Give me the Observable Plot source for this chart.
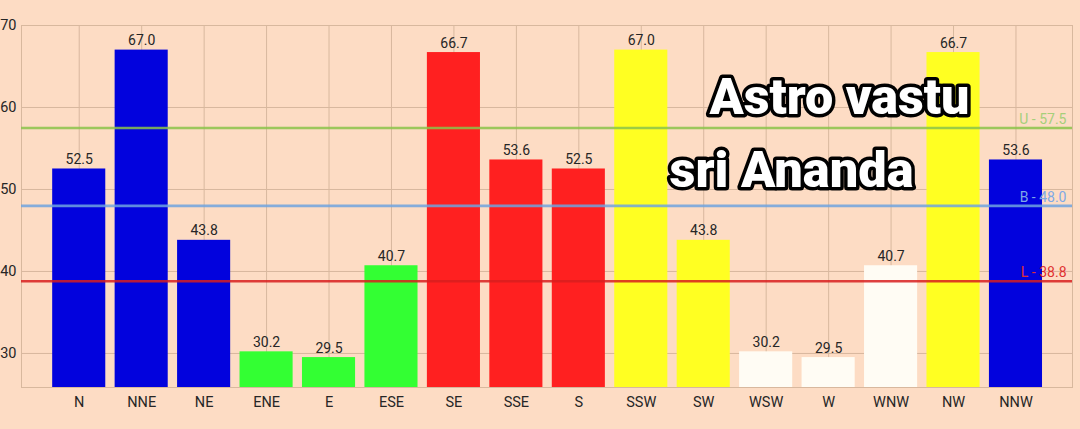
<!DOCTYPE html>
<html>
<head>
<meta charset="utf-8">
<script src="https://cdn.jsdelivr.net/npm/d3@7"></script>
<script src="https://cdn.jsdelivr.net/npm/@observablehq/plot@0.6"></script>
<style>
  html, body { margin: 0; padding: 0; background: #fddcc4; }
  #chart { width: 1080px; height: 429px; overflow: hidden; }
</style>
</head>
<body>
<div id="chart"></div>
<script>
const directions = ["N","NNE","NE","ENE","E","ESE","SE","SSE","S","SSW","SW","WSW","W","WNW","NW","NNW"];
const scores = [52.5, 67.0, 43.8, 30.2, 29.5, 40.7, 66.7, 53.6, 52.5, 67.0, 43.8, 30.2, 29.5, 40.7, 66.7, 53.6];
const barColors = ["#0202dd","#0202dd","#0202dd","#33ff33","#33ff33","#33ff33","#ff2020","#ff2020","#ff2020","#ffff22","#ffff22","#fffcf4","#fffcf4","#fffcf4","#ffff22","#0202dd"];
const limitNames = ["U","B","L"];
const limitValues = [57.5, 48.0, 38.8];
const limitColors = ["#8bc34a","#6fa3df","#d81e1e"];
const limitLabelColors = ["#a6cf7a","#7fa9e6","#e03030"];
const yTicks = [30, 40, 50, 60, 70];
const overlayLines = ["Astro vastu", "sri Ananda"];

const bars = directions.map((d, i) => ({dir: d, value: scores[i], color: barColors[i]}));
const limits = limitNames.map((n, i) => ({name: n, value: limitValues[i], color: limitColors[i], labelColor: limitLabelColors[i]}));

const grid = "#d8b89e";

const plot = Plot.plot({
  width: 1080,
  height: 429,
  marginLeft: 21,
  marginRight: 8,
  marginTop: 25,
  marginBottom: 42,
  style: {background: "#fddcc4", fontFamily: "Roboto, 'Noto Sans', sans-serif", fontSize: "14px", color: "#262626"},
  x: {domain: directions, range: [47.5, 1046.7], paddingInner: 0.15, paddingOuter: 0.075, round: false, label: null},
  y: {domain: [25.85, 70], label: null},
  marks: [
    Plot.ruleY(yTicks, {stroke: grid, strokeWidth: 1}),
    Plot.ruleX(directions, {x: d => d, stroke: grid, strokeWidth: 1}),
    Plot.frame({stroke: grid, strokeWidth: 1}),
    Plot.barY(bars, {x: "dir", y1: 25.85, y2: "value", fill: d => d.color}),
    Plot.ruleY(limits, {y: "value", stroke: d => d.color, strokeWidth: 2.6, strokeOpacity: 0.85}),
    Plot.text(limits, {y: "value", text: d => `${d.name} - ${d.value.toFixed(1)}`, fill: d => d.labelColor, frameAnchor: "right", textAnchor: "end", lineAnchor: "bottom", dx: -6, dy: -4, fontSize: 14}),
    Plot.text(bars, {x: "dir", y: "value", text: d => d.value.toFixed(1), lineAnchor: "bottom", dy: -5, fontSize: 14, fill: "#262626"}),
    Plot.axisY({ticks: yTicks, tickSize: 0, tickPadding: 5, fontSize: 14.5, tickFormat: d => d, fill: "#262626"}),
    Plot.axisX({tickSize: 0, tickPadding: 9, fontSize: 14.5, fill: "#262626"}),
    Plot.text([overlayLines[0]], {text: d => d, frameAnchor: "top-left", textAnchor: "start", lineAnchor: "bottom", dx: 688, dy: 88, fontSize: 50, fontWeight: 900, fill: "white", stroke: "black", strokeWidth: 7, strokeLinejoin: "round", paintOrder: "stroke"}),
    Plot.text([overlayLines[1]], {text: d => d, frameAnchor: "top-left", textAnchor: "start", lineAnchor: "bottom", dx: 648, dy: 161, fontSize: 50, fontWeight: 900, fill: "white", stroke: "black", strokeWidth: 7, strokeLinejoin: "round", paintOrder: "stroke"})
  ]
});

// condense the overlay headline to match the reference width
d3.select(plot).selectAll("text").each(function() {
  const t = this.textContent;
  if (t === overlayLines[0]) { d3.select(this).attr("textLength", 260).attr("lengthAdjust", "spacingAndGlyphs"); }
  if (t === overlayLines[1]) { d3.select(this).attr("textLength", 244).attr("lengthAdjust", "spacingAndGlyphs"); }
});

document.getElementById("chart").appendChild(plot);
</script>
</body>
</html>
